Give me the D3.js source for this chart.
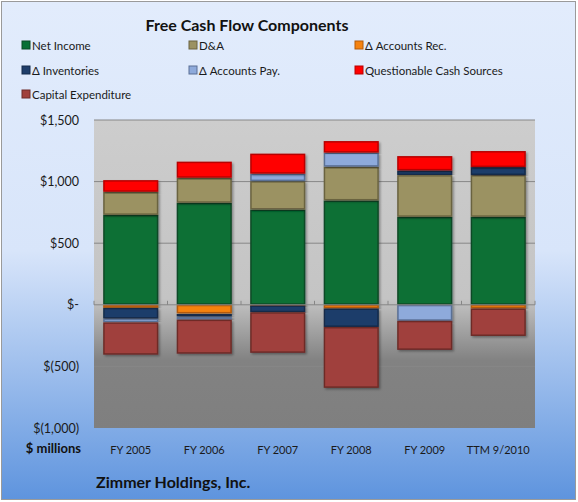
<!DOCTYPE html>
<html><head><meta charset="utf-8">
<script src="https://cdn.jsdelivr.net/npm/d3@7"></script>
<style>body{margin:0;background:#fff}svg{display:block}text{font-family:Lato,"Open Sans",sans-serif}</style>
</head><body><svg id="c" width="578" height="502"></svg>
<script>
const categories = ["FY 2005","FY 2006","FY 2007","FY 2008","FY 2009","TTM 9/2010"];
const netIncome = [730, 828, 773, 847, 714, 714];
const depAmort = [187, 203, 231, 274, 339, 339];
const accountsRec = [-25, -70, -5, -30, 0, -30];
const inventories = [-87, -25, -55, -150, 38, 65];
const accountsPay = [-30, -25, 60, 114, -130, 0];
const questionable = [95, 131, 163, 94, 116, 130];
const capex = [-263, -277, -330, -494, -236, -223];
const yTicks = [1500, 1000, 500, 0, -500, -1000];
const yTickLabels = ["$1,500","$1,000","$500","$-","$(500)","$(1,000)"];
const seriesNames = ["Net Income","D&A","\u0394 Accounts Rec.","\u0394 Inventories","\u0394 Accounts Pay.","Questionable Cash Sources","Capital Expenditure"];
const seriesColors = ["#077035","#9b9262","#f5820f","#1f3e6a","#8eaadb","#ff0000","#a0403c"];
const seriesStrokes = ["#0b4a27","#6a6340","#b35a08","#142a4a","#5a6f95","#b80000","#6e2b28"];

(function(){
const seriesValues = [netIncome, depAmort, accountsRec, inventories, accountsPay, questionable, capex];
const rows = categories.map((c,i)=>{const r={cat:c}; seriesNames.forEach((s,j)=>r[s]=seriesValues[j][i]); return r;});

const svg = d3.select("#c");
const defs = svg.append("defs");
const bg = defs.append("linearGradient").attr("id","bg").attr("x1",0).attr("y1",0).attr("x2",0).attr("y2",1);
bg.append("stop").attr("offset","0%").attr("stop-color","#e2ecfc");
bg.append("stop").attr("offset","50%").attr("stop-color","#d8e5fa");
bg.append("stop").attr("offset","100%").attr("stop-color","#5e94de");
const pg = defs.append("linearGradient").attr("id","pg").attr("x1",0).attr("y1",0).attr("x2",0).attr("y2",1);
pg.append("stop").attr("offset","0%").attr("stop-color","#cdcdcd");
pg.append("stop").attr("offset","58%").attr("stop-color","#c4c4c4");
pg.append("stop").attr("offset","78%").attr("stop-color","#828282");
pg.append("stop").attr("offset","100%").attr("stop-color","#7f7f7f");
const sh = defs.append("filter").attr("id","sh").attr("x","-10%").attr("y","-10%").attr("width","130%").attr("height","130%");
sh.append("feDropShadow").attr("dx",1.5).attr("dy",1.5).attr("stdDeviation",1).attr("flood-color","#000").attr("flood-opacity",0.35);

svg.append("rect").attr("x",1.5).attr("y",1.5).attr("width",574).attr("height",498)
  .attr("fill","url(#bg)").attr("stroke","#9a9a9a").attr("stroke-width",1);

const pL=94, pR=535, pT=120, pB=428;
const x = d3.scaleBand().domain(categories).range([pL,pR]).paddingInner(0.25).paddingOuter(0.125);
const y = d3.scaleLinear().domain([-1000,1500]).range([pB,pT]);

svg.append("rect").attr("x",pL).attr("y",pT).attr("width",pR-pL).attr("height",pB-pT).attr("fill","url(#pg)");

svg.append("g").selectAll("line").data(yTicks.filter(t=>t!==0 && t!==-1000)).join("line")
  .attr("x1",pL).attr("x2",pR).attr("y1",d=>y(d)).attr("y2",d=>y(d))
  .attr("stroke","#878787").attr("stroke-width",1);

const yAxis = d3.axisLeft(y).tickValues(yTicks).tickFormat((d,i)=>yTickLabels[i]).tickSize(0).tickPadding(15);
const ya = svg.append("g").attr("transform",`translate(${pL},0)`).call(yAxis);
ya.select(".domain").remove();
ya.selectAll("text").attr("font-size",12.5).attr("fill","#1a1a1a").style("font-family","Lato,'Open Sans',sans-serif");

const stack = d3.stack().keys(seriesNames).offset(d3.stackOffsetDiverging);
const layers = stack(rows);
svg.append("g").selectAll("g").data(layers).join("g")
  .attr("fill",(d,i)=>seriesColors[i]).attr("stroke",(d,i)=>seriesStrokes[i])
  .selectAll("rect").data(d=>d.filter(p=>p[1]!==p[0])).join("rect")
  .attr("x",d=>x(d.data.cat)+0.75).attr("width",x.bandwidth()-1.5)
  .attr("y",d=>y(Math.max(d[0],d[1]))+0.75)
  .attr("height",d=>Math.max(0.5,Math.abs(y(d[0])-y(d[1]))-1.5))
  .attr("stroke-width",1.5).attr("filter","url(#sh)");

const xa = svg.append("g").attr("transform",`translate(0,${y(0)})`);
xa.append("line").attr("x1",pL).attr("x2",pR).attr("stroke","#868686").attr("stroke-width",1);
const tickXs = categories.map((c,i)=>i===0?pL:x(c)-x.step()*x.paddingInner()/2).concat([pR]);
xa.selectAll("line.t").data(tickXs).join("line")
  .attr("class","t").attr("x1",d=>d).attr("x2",d=>d).attr("y1",-4).attr("y2",0).attr("stroke","#868686");

svg.append("g").attr("transform",`translate(0,${pB})`).call(d3.axisBottom(x).tickSize(0).tickPadding(18))
  .call(g=>g.select(".domain").remove())
  .selectAll("text").attr("font-size",11).attr("fill","#1a1a1a").style("font-family","Lato,'Open Sans',sans-serif");

svg.append("text").attr("x",247).attr("y",31).attr("text-anchor","middle").attr("font-size",16).attr("font-weight","bold").attr("fill","#111").text("Free Cash Flow Components");
svg.append("text").attr("x",81).attr("y",453).attr("text-anchor","end").attr("font-size",13).attr("font-weight","bold").attr("fill","#111").text("$ millions");
svg.append("text").attr("x",96).attr("y",488).attr("font-size",16).attr("font-weight","bold").attr("fill","#111").text("Zimmer Holdings, Inc.");

const legX = [22,189,355], legY = [45,70,94];
const lg = svg.append("g").selectAll("g").data(seriesNames).join("g")
  .attr("transform",(d,i)=>`translate(${legX[i%3]},${legY[Math.floor(i/3)]})`);
lg.append("rect").attr("x",0).attr("y",-4).attr("width",8).attr("height",8)
  .attr("fill",(d,i)=>seriesColors[i]).attr("stroke",(d,i)=>seriesStrokes[i]).attr("stroke-width",1);
lg.append("text").attr("x",10).attr("y",4.5).attr("font-size",11.5).attr("fill","#1a1a1a").text(d=>d);
})();
</script></body></html>
